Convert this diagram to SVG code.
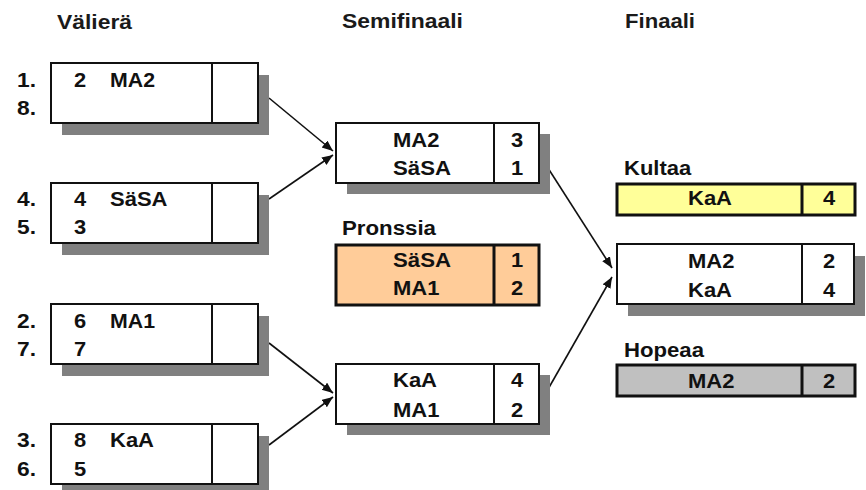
<svg xmlns="http://www.w3.org/2000/svg" width="866" height="490" viewBox="0 0 866 490">
<style>
text{font-family:"Liberation Sans",Arial,Helvetica,sans-serif;font-weight:bold;font-size:19.5px;fill:#111}
.ti{font-size:20px;fill:#1a1a1a}
.m{text-anchor:middle}
.bx{fill:#fff;stroke:#111;stroke-width:2}
.sh{fill:#808080}
.dv{stroke:#111;stroke-width:2}
.res{stroke:#111;stroke-width:3}
.cn{stroke:#111;stroke-width:1.6;fill:none;marker-end:url(#ah)}
</style>
<defs>
<marker id="ah" markerUnits="userSpaceOnUse" markerWidth="12" markerHeight="10" refX="11" refY="4.5" orient="auto">
<path d="M0,0 L11,4.5 L0,9 Z" fill="#111"/>
</marker>
</defs>
<rect width="866" height="490" fill="#fff"/>

<g id="titles">
<text class="ti" x="57" y="29" textLength="75" lengthAdjust="spacingAndGlyphs">Välierä</text>
<text class="ti" x="342" y="28" textLength="121" lengthAdjust="spacingAndGlyphs">Semifinaali</text>
<text class="ti" x="625" y="28" textLength="70" lengthAdjust="spacingAndGlyphs">Finaali</text>
</g>

<g id="connectors">
<line class="cn" x1="269" y1="98" x2="333" y2="151"/>
<line class="cn" x1="269" y1="199" x2="333" y2="155"/>
<line class="cn" x1="269" y1="343" x2="333" y2="393"/>
<line class="cn" x1="269" y1="445" x2="333" y2="397"/>
<line class="cn" x1="539" y1="154" x2="612" y2="268"/>
<line class="cn" x1="539" y1="405" x2="612" y2="277"/>
</g>

<g id="qf1">
<rect class="sh" x="62" y="75" width="207" height="60"/>
<rect class="bx" x="51" y="63" width="207" height="60"/>
<line class="dv" x1="212" y1="63" x2="212" y2="123"/>
<text x="17" y="87" textLength="19" lengthAdjust="spacingAndGlyphs">1.</text>
<text x="17" y="115" textLength="19" lengthAdjust="spacingAndGlyphs">8.</text>
<text x="74" y="87" textLength="12.2" lengthAdjust="spacingAndGlyphs">2</text>
<text x="110" y="87" textLength="45" lengthAdjust="spacingAndGlyphs">MA2</text>
</g>

<g id="qf2">
<rect class="sh" x="62" y="195" width="207" height="60"/>
<rect class="bx" x="51" y="183" width="207" height="60"/>
<line class="dv" x1="212" y1="183" x2="212" y2="243"/>
<text x="17" y="206" textLength="19" lengthAdjust="spacingAndGlyphs">4.</text>
<text x="17" y="234" textLength="19" lengthAdjust="spacingAndGlyphs">5.</text>
<text x="74" y="206" textLength="12.2" lengthAdjust="spacingAndGlyphs">4</text>
<text x="110" y="206" textLength="57.5" lengthAdjust="spacingAndGlyphs">SäSA</text>
<text x="74" y="234" textLength="12.2" lengthAdjust="spacingAndGlyphs">3</text>
</g>

<g id="qf3">
<rect class="sh" x="62" y="316" width="207" height="60"/>
<rect class="bx" x="51" y="304" width="207" height="60"/>
<line class="dv" x1="212" y1="304" x2="212" y2="364"/>
<text x="17" y="328" textLength="19" lengthAdjust="spacingAndGlyphs">2.</text>
<text x="17" y="356" textLength="19" lengthAdjust="spacingAndGlyphs">7.</text>
<text x="74" y="328" textLength="12.2" lengthAdjust="spacingAndGlyphs">6</text>
<text x="110" y="328" textLength="45" lengthAdjust="spacingAndGlyphs">MA1</text>
<text x="74" y="356" textLength="12.2" lengthAdjust="spacingAndGlyphs">7</text>
</g>

<g id="qf4">
<rect class="sh" x="62" y="436" width="207" height="60"/>
<rect class="bx" x="51" y="424" width="207" height="60"/>
<line class="dv" x1="212" y1="424" x2="212" y2="484"/>
<text x="17" y="447" textLength="19" lengthAdjust="spacingAndGlyphs">3.</text>
<text x="17" y="476" textLength="19" lengthAdjust="spacingAndGlyphs">6.</text>
<text x="74" y="447" textLength="12.2" lengthAdjust="spacingAndGlyphs">8</text>
<text x="110" y="447" textLength="44" lengthAdjust="spacingAndGlyphs">KaA</text>
<text x="74" y="476" textLength="12.2" lengthAdjust="spacingAndGlyphs">5</text>
</g>

<g id="sf1">
<rect class="sh" x="347" y="134" width="203" height="60"/>
<rect class="bx" x="336" y="123" width="203" height="60"/>
<line class="dv" x1="494" y1="123" x2="494" y2="183"/>
<text x="393" y="147" textLength="46.4" lengthAdjust="spacingAndGlyphs">MA2</text>
<text x="393" y="175" textLength="58" lengthAdjust="spacingAndGlyphs">SäSA</text>
<text class="m" x="517" y="147" textLength="12.2" lengthAdjust="spacingAndGlyphs">3</text>
<text class="m" x="517" y="175" textLength="12.2" lengthAdjust="spacingAndGlyphs">1</text>
</g>

<g id="bronze">
<text x="342" y="235" textLength="94" lengthAdjust="spacingAndGlyphs">Pronssia</text>
<rect class="res" x="336" y="245" width="203" height="60" fill="#FFCC99"/>
<line class="res" x1="494" y1="245" x2="494" y2="305"/>
<text x="393" y="267" textLength="58" lengthAdjust="spacingAndGlyphs">SäSA</text>
<text x="393" y="295" textLength="46.4" lengthAdjust="spacingAndGlyphs">MA1</text>
<text class="m" x="517" y="267" textLength="12.2" lengthAdjust="spacingAndGlyphs">1</text>
<text class="m" x="517" y="295" textLength="12.2" lengthAdjust="spacingAndGlyphs">2</text>
</g>

<g id="sf2">
<rect class="sh" x="347" y="375" width="203" height="60"/>
<rect class="bx" x="336" y="364" width="203" height="60"/>
<line class="dv" x1="494" y1="364" x2="494" y2="424"/>
<text x="393" y="387" textLength="44" lengthAdjust="spacingAndGlyphs">KaA</text>
<text x="393" y="417" textLength="46.4" lengthAdjust="spacingAndGlyphs">MA1</text>
<text class="m" x="517" y="387" textLength="12.2" lengthAdjust="spacingAndGlyphs">4</text>
<text class="m" x="517" y="417" textLength="12.2" lengthAdjust="spacingAndGlyphs">2</text>
</g>

<g id="gold">
<text x="624" y="175" textLength="67.2" lengthAdjust="spacingAndGlyphs">Kultaa</text>
<rect class="res" x="617" y="184" width="238" height="31" fill="#FFFF99"/>
<line class="res" x1="802" y1="184" x2="802" y2="215"/>
<text x="688" y="205" textLength="44" lengthAdjust="spacingAndGlyphs">KaA</text>
<text class="m" x="829" y="205" textLength="12.2" lengthAdjust="spacingAndGlyphs">4</text>
</g>

<g id="final">
<rect class="sh" x="628" y="256" width="237" height="60"/>
<rect class="bx" x="617" y="244" width="237" height="60"/>
<line class="dv" x1="802" y1="244" x2="802" y2="304"/>
<text x="688" y="268" textLength="46.4" lengthAdjust="spacingAndGlyphs">MA2</text>
<text x="688" y="297" textLength="44" lengthAdjust="spacingAndGlyphs">KaA</text>
<text class="m" x="829" y="268" textLength="12.2" lengthAdjust="spacingAndGlyphs">2</text>
<text class="m" x="829" y="297" textLength="12.2" lengthAdjust="spacingAndGlyphs">4</text>
</g>

<g id="silver">
<text x="624" y="357" textLength="80" lengthAdjust="spacingAndGlyphs">Hopeaa</text>
<rect class="res" x="617" y="365" width="238" height="31" fill="#C0C0C0"/>
<line class="res" x1="802" y1="365" x2="802" y2="396"/>
<text x="688" y="388" textLength="46.4" lengthAdjust="spacingAndGlyphs">MA2</text>
<text class="m" x="829" y="388" textLength="12.2" lengthAdjust="spacingAndGlyphs">2</text>
</g>
</svg>
